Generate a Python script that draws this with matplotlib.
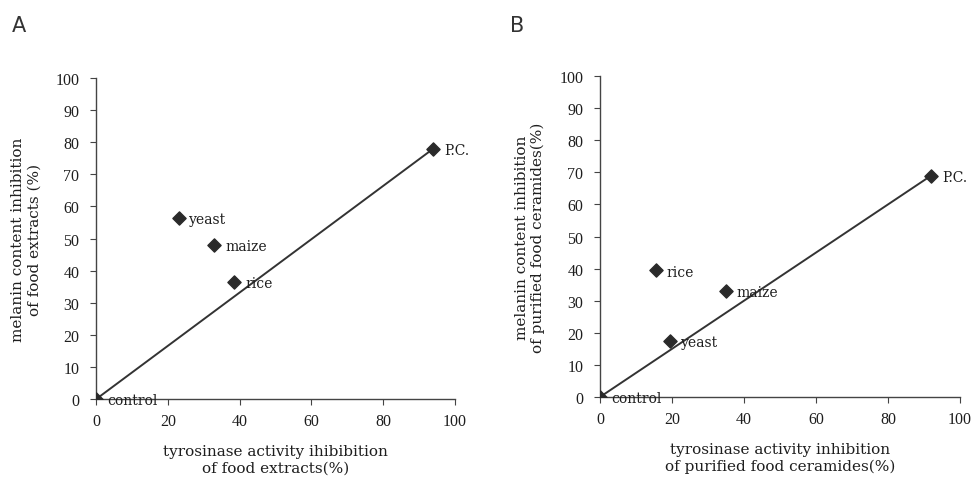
import matplotlib
matplotlib.use("Agg")
import matplotlib.pyplot as plt

# Panel A: food extracts
a_names = ["control", "yeast", "maize", "rice", "P.C."]
a_x = [0, 23, 33, 38.5, 94]
a_y = [0, 56.5, 48, 36.5, 78]

# Panel B: purified food ceramides
b_names = ["control", "rice", "yeast", "maize", "P.C."]
b_x = [0, 15.5, 19.5, 35, 92]
b_y = [0, 39.5, 17.5, 33, 69]

xticks = [0, 20, 40, 60, 80, 100]
yticks = [0, 10, 20, 30, 40, 50, 60, 70, 80, 90, 100]

serif = "Liberation Serif"
wide = "DejaVu Serif"
fig = plt.figure(figsize=(9.78, 4.81), dpi=100)

def panel(rect, xs, ys, names, xlabel, ylabel, letter, lx, ly):
    ax = fig.add_axes(rect)
    ax.plot([xs[0], xs[-1]], [ys[0], ys[-1]], color="#333333", lw=1.4, zorder=2)
    ax.scatter(xs, ys, marker="D", s=45, color="#2a2a2a", zorder=3)
    for n, x, y in zip(names, xs, ys):
        ax.text(x + 3, y - 0.4, n, fontsize=10, family=wide, va="center",
                ha="left", color="#1e1e1e")
    ax.set_xlim(0, 100)
    ax.set_ylim(0, 100)
    ax.set_xticks(xticks)
    ax.set_yticks(yticks)
    for s in ["top", "right"]:
        ax.spines[s].set_visible(False)
    for s in ["left", "bottom"]:
        ax.spines[s].set_color("#444444")
        ax.spines[s].set_linewidth(1.0)
    ax.tick_params(axis="both", direction="out", length=4, width=0.8, colors="#444444",
                   labelcolor="#1e1e1e", labelsize=11.5)
    ax.tick_params(axis="x", pad=6)
    ax.tick_params(axis="y", pad=8)
    for lab in ax.get_xticklabels() + ax.get_yticklabels():
        lab.set_family(serif)
    ax.set_xlabel(xlabel, fontsize=11, family=wide,
                  color="#1e1e1e", labelpad=11, linespacing=1.2)
    ax.set_ylabel(ylabel, fontsize=11, family=wide,
                  color="#1e1e1e", labelpad=10, linespacing=1.2)
    fig.text(lx, ly, letter, fontsize=15, family="DejaVu Sans", color="#333333",
             ha="left", va="center")
    return ax

panel([0.0982, 0.168, 0.367, 0.668], a_x, a_y, a_names,
      "tyrosinase activity ihibibition\nof food extracts(%)",
      "melanin content inhibition\nof food extracts (%)", "A", 0.012, 0.945)
panel([0.6135, 0.1726, 0.368, 0.667], b_x, b_y, b_names,
      "tyrosinase activity inhibition\nof purified food ceramides(%)",
      "melanin content inhibition\nof purified food ceramides(%)", "B", 0.521, 0.945)

fig.savefig("out.png", dpi=100)
